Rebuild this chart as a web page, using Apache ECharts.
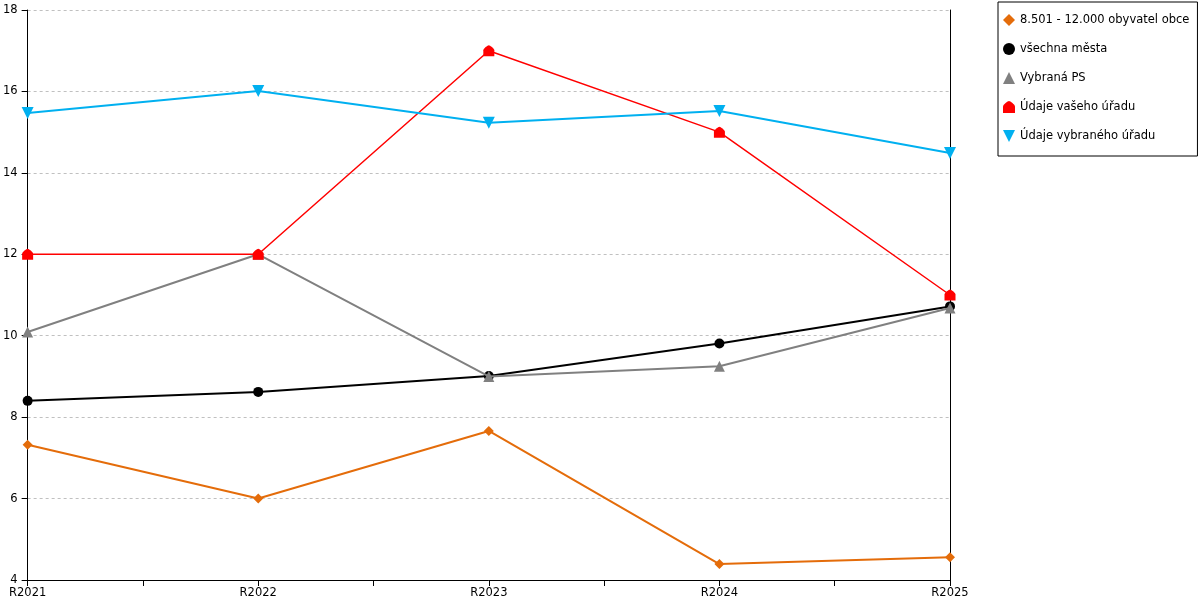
<!DOCTYPE html>
<html><head><meta charset="utf-8">
<script src="https://cdn.jsdelivr.net/npm/echarts@6/dist/echarts.min.js"></script>
<style>html,body{margin:0;padding:0;background:#fff}#c{width:1200px;height:600px}</style>
</head><body><div id="c"></div>
<script>
const categories = ['R2021','R2022','R2023','R2024','R2025'];
const yTicks = {min:4, max:18, interval:2};
const seriesNames = ['8.501 - 12.000 obyvatel obce','všechna města','Vybraná PS','Údaje vašeho úřadu','Údaje vybraného úřadu'];
const orangeVals = [7.32, 6.0, 7.66, 4.39, 4.56];
const blackVals = [8.40, 8.62, 9.01, 9.81, 10.72];
const grayVals = [10.09, 12.0, 9.0, 9.25, 10.68];
const redVals = [12, 12, 17, 15, 11];
const blueVals = [15.47, 16.01, 15.23, 15.52, 14.49];

const housePath = 'path://M5,0 C6,0 10,3 10,4.5 L10,10 L0,10 L0,4.5 C0,3 4,0 5,0 Z';
const downTri = 'path://M0,0 L10,0 L5,10 Z';
const styles = [
  {color:'#e46c0a', symbol:'diamond', size:10, w:2},
  {color:'#000000', symbol:'circle', size:10, w:2},
  {color:'#808080', symbol:'triangle', size:11, w:2},
  {color:'#ff0000', symbol:housePath, size:11, w:1.5},
  {color:'#00b0f0', symbol:downTri, size:12, w:2}
];
const allVals = [orangeVals, blackVals, grayVals, redVals, blueVals];

const chart = echarts.init(document.getElementById('c'));
chart.setOption({
  animation:false,
  textStyle:{fontFamily:'DejaVu Sans'},
  grid:{left:27, right:250, top:10, bottom:20, containLabel:false},
  legend:{
    orient:'vertical', left:998, top:2,
    borderColor:'#000', borderWidth:1, padding:[12,8,14,5],
    itemWidth:12, itemHeight:12, itemGap:17,
    textStyle:{fontSize:11.5, color:'#000', fontFamily:'DejaVu Sans'},
    data: seriesNames.map((n,i)=>({name:n, icon:styles[i].symbol}))
  },
  xAxis:{
    type:'value', min:0, max:categories.length-1, interval:0.5,
    axisLine:{onZero:false, lineStyle:{color:'#000', width:1}},
    axisTick:{show:true, length:6, lineStyle:{color:'#000'}},
    splitLine:{show:false},
    axisLabel:{color:'#000', fontSize:11.5, margin:7,
      formatter:v=> Number.isInteger(v) ? categories[v] : ''}
  },
  yAxis:[{
    type:'value', position:'left', min:yTicks.min, max:yTicks.max, interval:yTicks.interval,
    axisLine:{show:true, onZero:false, lineStyle:{color:'#000', width:1}},
    axisTick:{show:true, inside:false, length:6, lineStyle:{color:'#000', width:1}},
    axisLabel:{color:'#000', fontSize:11.5, margin:10},
    splitLine:{show:true, lineStyle:{color:'#c0c0c0', type:[3,3], width:1}}
  },{
    type:'value', position:'right', min:yTicks.min, max:yTicks.max, interval:yTicks.interval,
    axisLine:{show:true, onZero:false, lineStyle:{color:'#000'}},
    axisTick:{show:false}, axisLabel:{show:false}, splitLine:{show:false}
  }],
  series: seriesNames.map((n,i)=>({
    name:n, type:'line',
    data: allVals[i].map((v,j)=>[j,v]),
    symbol:styles[i].symbol, symbolSize:styles[i].size, showAllSymbol:true,
    lineStyle:{color:styles[i].color, width:styles[i].w},
    itemStyle:{color:styles[i].color},
    z:2+i
  }))
});
</script></body></html>
